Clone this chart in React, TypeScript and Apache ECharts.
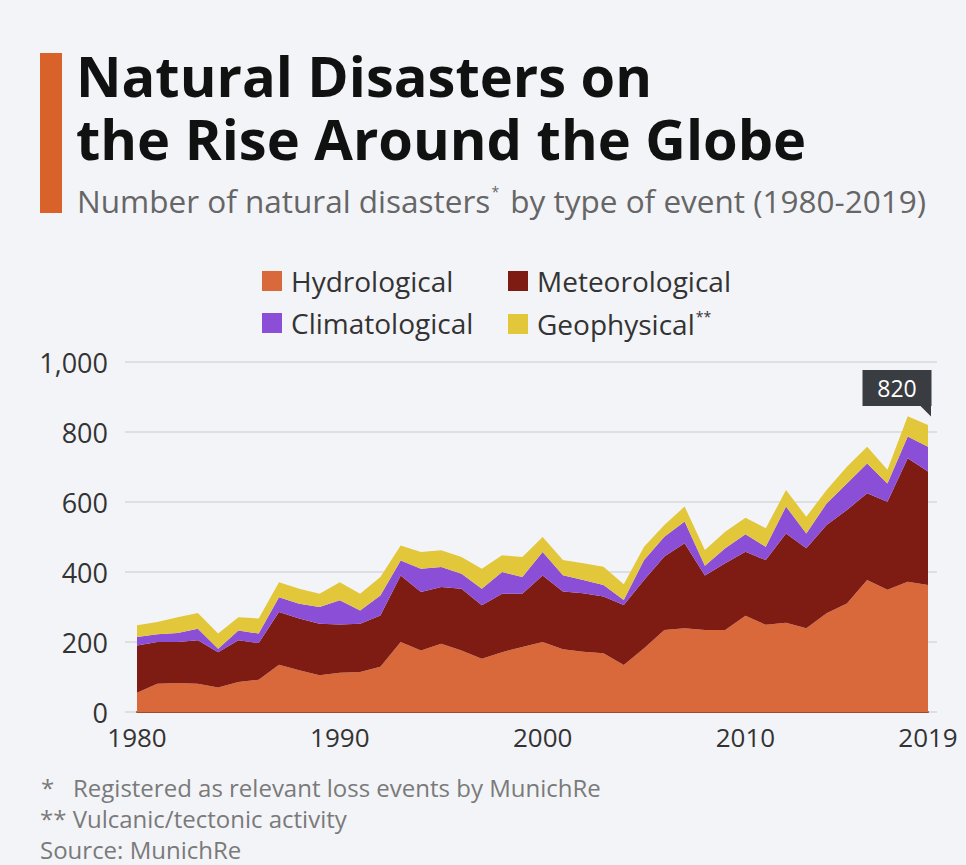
import React, { useEffect, useRef } from "react";
import * as echarts from "echarts";

const years = [
  "1980", "1981", "1982", "1983", "1984", "1985", "1986", "1987", "1988", "1989",
  "1990", "1991", "1992", "1993", "1994", "1995", "1996", "1997", "1998", "1999",
  "2000", "2001", "2002", "2003", "2004", "2005", "2006", "2007", "2008", "2009",
  "2010", "2011", "2012", "2013", "2014", "2015", "2016", "2017", "2018", "2019",
];

const hydrological = [
  55, 81, 83, 81, 70, 86, 92, 135, 119, 105,
  112, 114, 129, 200, 176, 195, 176, 152, 171, 186,
  200, 179, 172, 168, 134, 182, 234, 239, 234, 234,
  275, 249, 255, 239, 282, 310, 377, 349, 372, 363,
];

const meteorological = [
  135, 119, 117, 124, 101, 119, 105, 151, 148, 147,
  138, 138, 147, 190, 167, 162, 176, 153, 167, 152,
  190, 165, 167, 162, 172, 195, 210, 243, 156, 191,
  183, 185, 255, 229, 252, 267, 248, 252, 353, 324,
];

const climatological = [
  24, 22, 26, 33, 10, 28, 27, 42, 42, 48,
  69, 38, 57, 43, 66, 57, 43, 47, 62, 48,
  67, 47, 38, 33, 14, 57, 57, 62, 28, 43,
  50, 38, 77, 42, 62, 76, 85, 52, 62, 71,
];

const geophysical = [
  34, 35, 45, 45, 43, 38, 43, 43, 43, 38,
  52, 48, 53, 43, 48, 48, 48, 57, 48, 57,
  43, 43, 48, 52, 45, 38, 33, 43, 45, 47,
  47, 53, 47, 48, 38, 48, 48, 39, 58, 62,
];

const xTickLabels = ["1980", "1990", "2000", "2010", "2019"];
const yTicks = { min: 0, max: 1000, interval: 200 };

const COLORS = {
  hydro: "#d9683a",
  meteo: "#7e1c14",
  clim: "#8a4fd6",
  geo: "#e2c73b",
};

const FONT = "'Open Sans', 'Noto Sans', sans-serif";

export default function App() {
  const ref = useRef<HTMLDivElement>(null);

  useEffect(() => {
    if (!ref.current) return;
    const chart = echarts.init(ref.current, undefined, { renderer: "svg" });

    const last = years.length - 1;
    const total =
      hydrological[last] + meteorological[last] + climatological[last] + geophysical[last];

    const mk = (name: string, data: number[], color: string, extra: any = {}) => ({
      name,
      type: "line",
      stack: "total",
      xAxisIndex: 1,
      yAxisIndex: 1,
      data,
      symbol: "none",
      showSymbol: false,
      lineStyle: { width: 0 },
      areaStyle: { color, opacity: 1 },
      itemStyle: { color },
      emphasis: { disabled: true },
      silent: true,
      ...extra,
    });

    const legendCommon = {
      icon: "rect",
      itemWidth: 20,
      itemHeight: 20,
      padding: 0,
      selectedMode: false,
      textStyle: {
        fontSize: 28,
        color: "#333",
        fontFamily: FONT,
        padding: [0, 0, 0, 4],
        rich: {
          s: { fontSize: 14, color: "#333", fontFamily: FONT, padding: [0, 0, 16, 1] },
        },
      },
    };

    const footStyle = {
      fontSize: 24,
      lineHeight: 26,
      fontFamily: FONT,
      fill: "#7a7a7a",
      verticalAlign: "middle",
    };

    chart.setOption({
      animation: false,
      backgroundColor: "#f3f4f8",
      grid: [
        { left: 125, right: 29, top: 362, bottom: 153, containLabel: false },
        { left: 137, right: 38, top: 362, bottom: 153, containLabel: false },
      ],
      legend: [
        { ...legendCommon, data: ["Hydrological"], left: 262, top: 267 },
        { ...legendCommon, data: ["Meteorological"], left: 508, top: 267 },
        { ...legendCommon, data: ["Climatological"], left: 262, top: 309 },
        {
          ...legendCommon,
          data: ["Geophysical"],
          left: 508,
          top: 309,
          formatter: "Geophysical{s|**}",
        },
      ],
      xAxis: [
        {
          gridIndex: 0,
          type: "value",
          min: 0,
          max: 1,
          show: false,
        },
        {
          gridIndex: 1,
          type: "category",
          data: years,
          boundaryGap: false,
          axisLine: { show: true, lineStyle: { color: "#a24a28", width: 2 } },
          axisTick: { show: false },
          splitLine: { show: false },
          axisLabel: {
            interval: (_i: number, v: string) => xTickLabels.includes(v),
            fontSize: 26,
            color: "#333",
            fontFamily: FONT,
            margin: 12,
          },
        },
      ],
      yAxis: [
        {
          gridIndex: 0,
          type: "value",
          min: yTicks.min,
          max: yTicks.max,
          interval: yTicks.interval,
          axisLine: { show: false },
          axisTick: { show: false },
          splitLine: { lineStyle: { color: "#d6d8dd", width: 1.5 } },
          axisLabel: {
            fontSize: 27,
            color: "#333",
            fontFamily: FONT,
            margin: 17,
            formatter: (v: number) => v.toLocaleString("en-US"),
          },
        },
        {
          gridIndex: 1,
          type: "value",
          min: yTicks.min,
          max: yTicks.max,
          interval: yTicks.interval,
          show: false,
          splitLine: { show: false },
        },
      ],
      series: [
        mk("Hydrological", hydrological, COLORS.hydro),
        mk("Meteorological", meteorological, COLORS.meteo),
        mk("Climatological", climatological, COLORS.clim),
        mk("Geophysical", geophysical, COLORS.geo, {
          markPoint: {
            silent: true,
            data: [
              {
                coord: [years[last], total],
                symbol: "rect",
                symbolSize: [69, 36],
                symbolOffset: [-31, -37],
                itemStyle: { color: "#393c40" },
                label: {
                  show: true,
                  position: "inside",
                  formatter: String(total),
                  color: "#ffffff",
                  fontSize: 23,
                  fontFamily: FONT,
                },
              },
              {
                coord: [years[last], total],
                symbol: "path://M0,0 L10,0 L10,10 Z",
                symbolSize: [11, 11],
                symbolOffset: [-2.5, -14],
                itemStyle: { color: "#393c40" },
                label: { show: false },
              },
            ],
          },
        }),
      ],
      graphic: [
        {
          type: "rect",
          shape: { x: 40, y: 53, width: 22, height: 160 },
          style: { fill: "#d9622b" },
          silent: true,
        },
        {
          type: "text",
          x: 76,
          y: 106.5,
          style: {
            text: "Natural Disasters on\nthe Rise Around the Globe",
            fontSize: 56,
            lineHeight: 63,
            fontWeight: "bold",
            fontFamily: FONT,
            fill: "#111111",
            verticalAlign: "middle",
            align: "left",
          },
        },
        {
          type: "text",
          x: 77,
          y: 200,
          style: {
            text: "Number of natural disasters{s|*} by type of event (1980-2019)",
            fontSize: 31.5,
            fontFamily: FONT,
            fill: "#666666",
            verticalAlign: "middle",
            align: "left",
            rich: {
              s: { fontSize: 14, fill: "#666666", fontFamily: FONT, padding: [0, 3, 18, 1] },
            },
          },
        },
        { type: "text", x: 41, y: 787, style: { ...footStyle, text: "*" } },
        {
          type: "text",
          x: 73,
          y: 787,
          style: { ...footStyle, text: "Registered as relevant loss events by MunichRe" },
        },
        {
          type: "text",
          x: 40,
          y: 818,
          style: { ...footStyle, text: "** Vulcanic/tectonic activity" },
        },
        {
          type: "text",
          x: 40,
          y: 849,
          style: { ...footStyle, text: "Source: MunichRe" },
        },
      ],
    });

    return () => chart.dispose();
  }, []);

  return (
    <div
      ref={ref}
      style={{
        position: "fixed",
        left: 0,
        top: 0,
        width: 966,
        height: 865,
        background: "#f3f4f8",
      }}
    />
  );
}
